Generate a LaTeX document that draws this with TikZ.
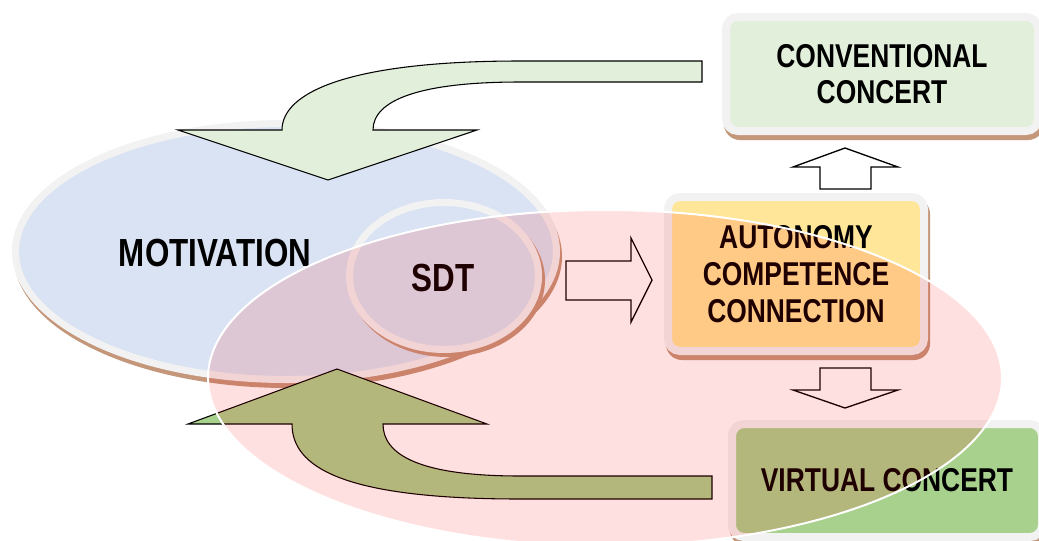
\documentclass[tikz,border=0pt]{standalone}
\usepackage{fontspec}
\newfontfamily\lbl[FakeStretch=0.8]{Liberation Sans}
\usetikzlibrary{shapes.geometric}
\newdimen\pxu \pxu=0.75pt
\definecolor{blueF}{RGB}{218,227,243}
\definecolor{ringc}{RGB}{242,242,242}
\definecolor{shadowc}{RGB}{196,150,122}
\definecolor{yellowF}{RGB}{255,230,153}
\definecolor{greenV}{RGB}{169,209,142}
\definecolor{greenC}{RGB}{226,239,218}
\begin{document}
\begin{tikzpicture}[x=0.75pt,y=-0.75pt,
  ring/.style={draw=ringc, line width=7\pxu, inner sep=0pt},
  ringbox/.style={draw=ringc, line width=8\pxu, rounded corners=12\pxu, inner sep=0pt, align=center,
     font=\lbl\bfseries\fontsize{24.75}{27.5}\selectfont},
  bigtxt/.style={font=\lbl\bfseries\fontsize{29.4}{33}\selectfont, inner sep=0pt},
  blockarrow/.style={draw=black, fill=white, line width=1pt, line join=miter},
  curvearrow/.style={draw=black, line width=0.8pt}
]
\useasboundingbox (0,0) rectangle (1039,540);
\fill[white] (0,0) rectangle (1039,540);

% MOTIVATION ellipse
\fill[shadowc] (288,256.5) ellipse [x radius=274, y radius=131.5];
\node[ellipse, ring, fill=blueF, minimum width=541\pxu, minimum height=256\pxu] (motE) at (286,251.5) {};
\node[bigtxt] (motT) at (215,253) {MOTIVATION};

% SDT circle
\fill[shadowc] (447,280) ellipse [x radius=98, y radius=77];
\node[ellipse, ring, fill=blueF, minimum width=189\pxu, minimum height=147\pxu] (sdtE) at (444,276) {};
\node[bigtxt] (sdtT) at (443,277.5) {SDT};

% top curved arrow (conventional -> motivation)
\path[curvearrow, fill=greenC] (702,61) -- (520,61)
  .. controls (350,61) and (282,92) .. (282,130) -- (178,130) -- (328,180) -- (477,130) -- (373,130)
  .. controls (373,100) and (420,82) .. (520,82) -- (702,82) -- cycle;

% boxes
\fill[shadowc, rounded corners=16\pxu] (724,18) rectangle (1044,140);
\node[ringbox, fill=greenC, minimum width=312\pxu, minimum height=114\pxu] (conv) at (882,74) {CONVENTIONAL\\CONCERT};

\fill[shadowc, rounded corners=16\pxu] (666,198) rectangle (930,360);
\node[ringbox, fill=yellowF, minimum width=256\pxu, minimum height=154\pxu] (auto) at (796,274) {AUTONOMY\\COMPETENCE\\CONNECTION};

\fill[shadowc, rounded corners=16\pxu] (730,425) rectangle (1048,546);
\node[ringbox, fill=greenV, minimum width=310\pxu, minimum height=113\pxu] (virt) at (887,480.5) {VIRTUAL CONCERT};

% block arrows
\path[blockarrow] (820,189) -- (820,167) -- (793,167) -- (845,148) -- (898,167) -- (871,167) -- (871,189) -- cycle;
\path[blockarrow] (820,368) -- (820,390) -- (793,390) -- (845,408) -- (898,390) -- (871,390) -- (871,368) -- cycle;
\path[blockarrow] (566,261) -- (631,261) -- (631,238) -- (652,280) -- (631,322) -- (631,300) -- (566,300) -- cycle;

% bottom curved arrow (virtual -> motivation)
\path[curvearrow, fill=greenV] (712,476) -- (520,476)
  .. controls (420,476) and (383,455) .. (383,424) -- (487,424) -- (337,369) -- (188,424) -- (292,424)
  .. controls (292,466) and (340,499) .. (520,499) -- (712,499) -- cycle;

% pink overlay ellipse
\node[ellipse, draw=white, line width=1.5pt, fill=red, fill opacity=0.12, inner sep=0pt,
  minimum width=794\pxu, minimum height=336\pxu] (pinkE) at (605,378) {};
\end{tikzpicture}
\end{document}
